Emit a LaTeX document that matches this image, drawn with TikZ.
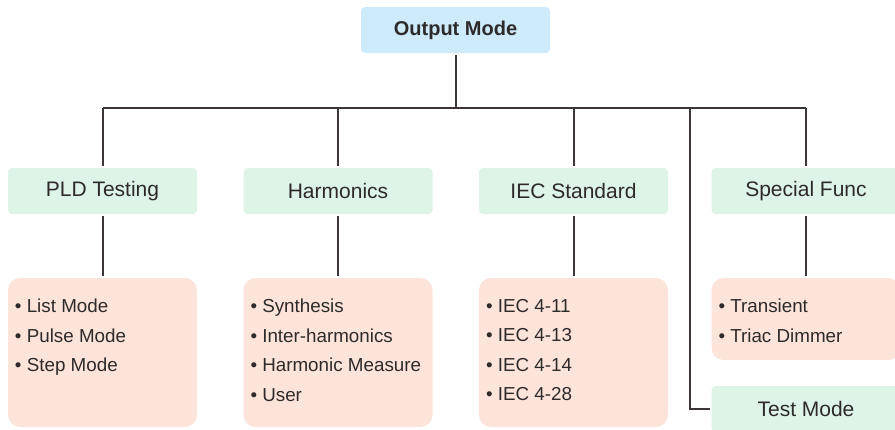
\documentclass[tikz,border=0pt]{standalone}
\usepackage{fontspec}
\setmainfont{Liberation Sans}
\usetikzlibrary{positioning}
\definecolor{topblue}{HTML}{CDEBFB}
\definecolor{catgreen}{HTML}{DDF4E7}
\definecolor{itemrose}{HTML}{FDE4DB}
\definecolor{linkgray}{HTML}{3B3535}
\definecolor{inkgray}{HTML}{2E2A2A}
\begin{document}
\begin{tikzpicture}[x=1pt, y=-1pt, text=inkgray, outer sep=2pt,
	root/.style={fill=topblue, rounded corners=4pt, minimum width=189pt, minimum height=46pt, font=\fontsize{20}{24}\selectfont\bfseries},
	cat/.style={fill=catgreen, rounded corners=4pt, minimum width=189pt, minimum height=46pt, font=\fontsize{21}{25}\selectfont},
	list/.style={fill=itemrose, rounded corners=12pt, minimum width=189pt, minimum height=149pt},
	items/.style={anchor=north west, align=left, inner sep=0pt, font=\fontsize{18.8}{29.5}\selectfont},
	link/.style={draw=linkgray, line width=2pt}]
	\clip (0,0) rectangle (895,429);
	\node[root] (om) at (455.5,30) {Output Mode};
	\coordinate (bus) at (455.5,108);
	\foreach \n/\x/\t in {pld/102.5/PLD Testing, harm/338/Harmonics, iec/573.5/IEC Standard, spec/806/Special Func}{
		\node[cat] (\n) at (\x,191) {\t};
	}
	\node[cat] (test) at (806,409) {Test Mode};
	% item boxes
	\node[list] (pldl) at (102.5,352.5) {};
	\node[list] (harml) at (338,352.5) {};
	\node[list] (iecl) at (573.5,352.5) {};
	\node[list, minimum height=82pt] (specl) at (806,319) {};
	\foreach \n/\t in {pld/{List Mode\\\textbullet\ Pulse Mode\\\textbullet\ Step Mode},
		harm/{Synthesis\\\textbullet\ Inter-harmonics\\\textbullet\ Harmonic Measure\\\textbullet\ User},
		iec/{IEC 4-11\\\textbullet\ IEC 4-13\\\textbullet\ IEC 4-14\\\textbullet\ IEC 4-28},
		spec/{Transient\\\textbullet\ Triac Dimmer}}{
		\node[items] (\n t) at ([xshift=7pt, yshift=-21pt]\n l.north west) {\textbullet\ \t};
	}
	% connectors
	\draw[link] (om.south) -- (om.south |- bus);
	\draw[link] (pld |- bus) -- (spec |- bus);
	\foreach \n in {pld, harm, iec, spec}{
		\draw[link] (\n |- bus) -- (\n.north);
		\draw[link] (\n.south) -- (\n l.north);
	}
	\coordinate (tap) at (690,108);
	\draw[link] (tap) -- (tap |- test) -- (test.west);
\end{tikzpicture}
\end{document}
